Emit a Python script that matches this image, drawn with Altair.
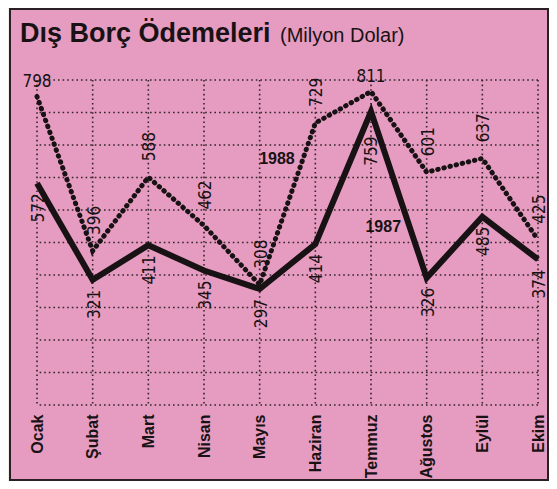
import altair as alt
import pandas as pd

# ---- data ----
months = ["Ocak", "Şubat", "Mart", "Nisan", "Mayıs", "Haziran", "Temmuz", "Ağustos", "Eylül", "Ekim"]
v1987 = [572, 321, 411, 345, 297, 414, 759, 326, 485, 374]
v1988 = [798, 396, 588, 462, 308, 729, 811, 601, 637, 425]
series_names = ["1987", "1988"]
series_label_idx = [6.22, 4.31]
series_label_val = [458, 635]
title_main = "Dış Borç Ödemeleri"
title_unit = "(Milyon Dolar)"
y_domain = [-5, 841]
grid_count = 11

# ---- tables ----
rows = []
for i, m in enumerate(months):
    rows.append({"idx": i, "month": m, "value": v1987[i], "year": "1987"})
    rows.append({"idx": i, "month": m, "value": v1988[i], "year": "1988"})
df = pd.DataFrame(rows)
df_months = pd.DataFrame({"idx": list(range(len(months))), "month": months})
step = (y_domain[1] - y_domain[0]) / (grid_count - 1)
df_grid = pd.DataFrame({"g": [y_domain[0] + k * step for k in range(grid_count)]})
df_series = pd.DataFrame({"name": series_names, "idx": series_label_idx, "value": series_label_val})

PINK = "#e69cc0"
INK = "#181214"
NUM_FONT = "Liberation Sans Narrow, Arial Narrow, DejaVu Sans Condensed, sans-serif"
BOLD_FONT = "Liberation Sans, Arial, sans-serif"

label_expr = "[" + ",".join("'" + m + "'" for m in months) + "][datum.value]"
x_axis = alt.Axis(values=list(range(len(months))), labelExpr=label_expr, labelAngle=270,
                  labelAlign="right", labelBaseline="middle", labelPadding=9,
                  labelFont=BOLD_FONT, labelFontWeight="bold", labelFontSize=16,
                  labelColor=INK, ticks=False, domain=False, grid=False, title=None,
                  zindex=1)
x_scale = alt.Scale(domain=[0, len(months) - 1], nice=False, zero=False)
y_scale = alt.Scale(domain=y_domain, nice=False, zero=False)
X = alt.X("idx:Q", scale=x_scale, axis=x_axis)
Y = alt.Y("value:Q", scale=y_scale, axis=None)

one = alt.Data(values=[{"a": 1}])

frame = alt.Chart(one).mark_rect(fill=PINK, stroke="#2a2024", strokeWidth=2).encode(
    x=alt.value(-27), x2=alt.value(511), y=alt.value(-71), y2=alt.value(400))

vgrid = alt.Chart(df_months).mark_rule(color="#33252b", strokeWidth=1.6, strokeDash=[1.6, 3]).encode(x=X)
hgrid = alt.Chart(df_grid).mark_rule(color="#33252b", strokeWidth=1.6, strokeDash=[1.6, 3]).encode(
    y=alt.Y("g:Q", scale=y_scale, axis=None))

line87 = alt.Chart(df).transform_filter("datum.year == '1987'").mark_line(
    color=INK, strokeWidth=6, strokeJoin="miter").encode(x=X, y=Y)
line88 = alt.Chart(df).transform_filter("datum.year == '1988'").mark_line(
    color=INK, strokeWidth=5, strokeDash=[0.5, 5.8], strokeCap="round").encode(x=X, y=Y)

TXT = alt.Text("value:Q", format="d")
lab88_h = alt.Chart(df).transform_filter(
    "datum.year == '1988' && (datum.idx == 0 || datum.idx == 6)").mark_text(
    align="center", baseline="alphabetic", yOffset=-10, font=NUM_FONT, fontSize=17,
    color=INK).encode(x=X, y=Y, text=TXT)
lab88 = alt.Chart(df).transform_filter(
    "datum.year == '1988' && datum.idx != 0 && datum.idx != 6").mark_text(
    angle=270, align="left", baseline="middle", xOffset=2, yOffset=-16, font=NUM_FONT,
    fontSize=17, color=INK).encode(x=X, y=Y, text=TXT)
lab87 = alt.Chart(df).transform_filter("datum.year == '1987' && datum.idx != 6").mark_text(
    angle=270, align="right", baseline="middle", xOffset=2, yOffset=10, font=NUM_FONT,
    fontSize=17, color=INK).encode(x=X, y=Y, text=TXT)
lab87_peak = alt.Chart(df).transform_filter("datum.year == '1987' && datum.idx == 6").mark_text(
    angle=270, align="right", baseline="middle", xOffset=1, yOffset=25, font=NUM_FONT,
    fontSize=17, color=INK).encode(x=X, y=Y, text=TXT)

series = alt.Chart(df_series).mark_text(
    align="center", baseline="middle", font=BOLD_FONT, fontWeight="bold", fontSize=16,
    color=INK).encode(x=X, y=Y, text="name:N")

t1 = alt.Chart(one).mark_text(text=title_main, align="left", baseline="alphabetic",
                              font=BOLD_FONT, fontWeight="bold", fontSize=27, color=INK).encode(
    x=alt.value(-17), y=alt.value(-38))
t2 = alt.Chart(one).mark_text(text=title_unit, align="left", baseline="alphabetic",
                              font=BOLD_FONT, fontSize=20, color=INK).encode(
    x=alt.value(243), y=alt.value(-38))

chart = alt.layer(frame, vgrid, hgrid, line88, line87, lab88_h, lab88, lab87, lab87_peak,
                  series, t1, t2).properties(
    width=501, height=325,
    autosize=alt.AutoSizeParams(type="none"),
    padding={"left": 29, "top": 72, "right": 11, "bottom": 76},
    background="#f2eeea",
).configure_view(stroke=None)

chart.save("out.html", embed_options={"renderer": "svg", "actions": False})
